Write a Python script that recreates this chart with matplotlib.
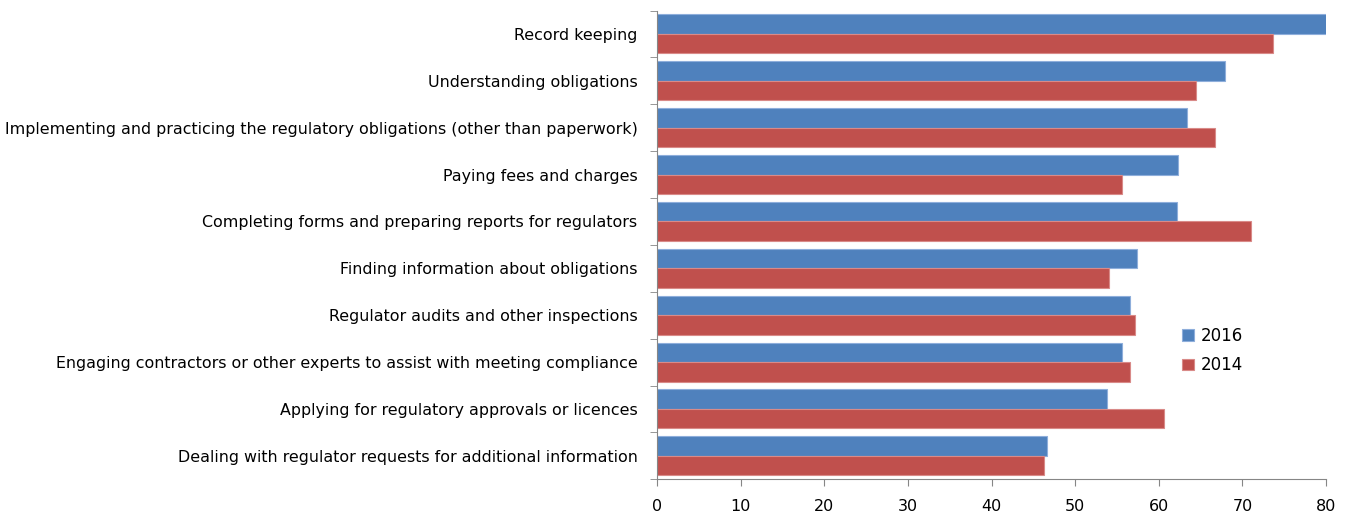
import matplotlib.pyplot as plt
import numpy as np

categories = [
    'Record keeping',
    'Understanding obligations',
    'Implementing and practicing the regulatory obligations (other than paperwork)',
    'Paying fees and charges',
    'Completing forms and preparing reports for regulators',
    'Finding information about obligations',
    'Regulator audits and other inspections',
    'Engaging contractors or other experts to assist with meeting compliance',
    'Applying for regulatory approvals or licences',
    'Dealing with regulator requests for additional information',
]
vals_2016 = [80.2, 67.9, 63.4, 62.3, 62.2, 57.4, 56.6, 55.6, 53.8, 46.6]
vals_2014 = [73.6, 64.4, 66.7, 55.6, 71.0, 54.1, 57.1, 56.6, 60.6, 46.3]
xticks = [0, 10, 20, 30, 40, 50, 60, 70, 80]

fig = plt.figure(figsize=(13.48, 5.16), dpi=100)
ax = fig.add_axes([0.4874, 0.0711, 0.4963, 0.9085])

y = np.arange(len(categories))
h = 0.416
ax.barh(y - h / 2, vals_2016, height=h, color='#4F81BD', edgecolor='#8EAEDB', linewidth=0.8, label='2016')
ax.barh(y + h / 2, vals_2014, height=h, color='#C0504D', edgecolor='#D98A88', linewidth=0.8, label='2014')

ax.set_ylim(len(categories) - 0.5, -0.5)
ax.set_xlim(0, 80)
ax.set_xticks(xticks)
ax.set_yticks(y)
ax.set_yticklabels(categories)
# ticks on the category boundaries, like the original
ax.set_yticks(np.arange(len(categories) + 1) - 0.5, minor=True)
ax.tick_params(axis='y', which='major', length=0, pad=14, labelsize=11.4)
ax.tick_params(axis='y', which='minor', length=5, color='#868686')
ax.tick_params(axis='x', length=5, color='#868686', labelsize=11.5, pad=9)

for s in ['top', 'right']:
    ax.spines[s].set_visible(False)
for s in ['left', 'bottom']:
    ax.spines[s].set_color('#868686')

ax.legend(loc='center', bbox_to_anchor=(0.83, 0.275), frameon=False, fontsize=12,
          handlelength=0.7, handleheight=0.7, handletextpad=0.4, labelspacing=0.7)

plt.savefig('out.png', dpi=100)
